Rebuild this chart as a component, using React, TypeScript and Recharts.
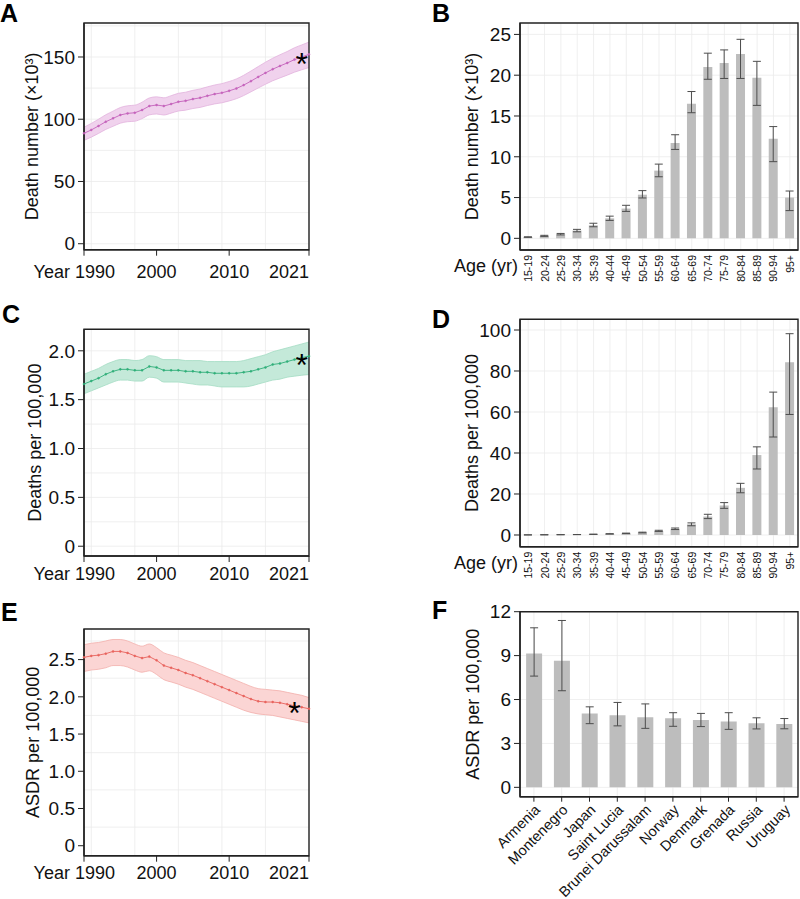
import React from 'react';
import {
  ComposedChart,
  BarChart,
  Bar,
  Line,
  Area,
  XAxis,
  YAxis,
  CartesianGrid,
  ErrorBar,
  ReferenceDot,
} from 'recharts';

// ---- yearly trends (1990–2021) ----
const years = [
  1990, 1991, 1992, 1993, 1994, 1995, 1996, 1997, 1998, 1999, 2000, 2001, 2002, 2003, 2004, 2005,
  2006, 2007, 2008, 2009, 2010, 2011, 2012, 2013, 2014, 2015, 2016, 2017, 2018, 2019, 2020, 2021,
];
const yearTicks = [1990, 2000, 2010, 2021];

// death number, x10^3
const deathNumMean = [
  88.7, 91.4, 94.6, 98.0, 100.7, 103.4, 104.7, 105.2, 107.4, 110.6, 111.4, 110.6, 112.2, 114.0, 114.8, 116.2,
  117.2, 118.8, 120.2, 121.2, 122.8, 124.7, 127.4, 130.6, 134.0, 137.2, 140.2, 142.8, 145.2, 147.9, 150.0, 152.1,
];
const deathNumLower = [
  83.0, 85.6, 88.6, 91.8, 94.3, 96.8, 98.0, 98.4, 100.5, 103.5, 104.2, 103.4, 104.9, 106.6, 107.3, 108.6,
  109.5, 111.0, 112.3, 113.2, 114.7, 116.5, 119.0, 122.0, 125.1, 128.1, 130.9, 133.2, 135.4, 137.8, 139.7, 141.5,
];
const deathNumUpper = [
  93.6, 96.6, 100.0, 103.6, 106.5, 109.4, 110.8, 111.3, 113.7, 117.1, 118.0, 117.2, 118.9, 120.8, 121.7, 123.2,
  124.3, 126.0, 127.5, 128.6, 130.3, 132.4, 135.3, 138.7, 142.3, 145.8, 149.0, 151.8, 154.4, 157.4, 159.7, 162.0,
];

// crude death rate per 100,000
const deathRateMean = [
  1.66, 1.69, 1.72, 1.76, 1.79, 1.81, 1.81, 1.80, 1.80, 1.84, 1.83, 1.80, 1.80, 1.80, 1.79, 1.79,
  1.78, 1.78, 1.77, 1.77, 1.77, 1.77, 1.78, 1.79, 1.81, 1.83, 1.86, 1.87, 1.89, 1.91, 1.93, 1.945,
];
const deathRateLower = [
  1.56, 1.59, 1.62, 1.65, 1.68, 1.70, 1.70, 1.69, 1.69, 1.73, 1.72, 1.68, 1.68, 1.68, 1.67, 1.66,
  1.65, 1.65, 1.64, 1.63, 1.63, 1.63, 1.63, 1.64, 1.66, 1.68, 1.70, 1.71, 1.73, 1.74, 1.75, 1.76,
];
const deathRateUpper = [
  1.76, 1.79, 1.82, 1.86, 1.89, 1.91, 1.91, 1.90, 1.91, 1.95, 1.94, 1.91, 1.91, 1.91, 1.90, 1.90,
  1.90, 1.89, 1.89, 1.89, 1.89, 1.89, 1.90, 1.92, 1.94, 1.96, 1.99, 2.01, 2.03, 2.05, 2.07, 2.09,
];

// age-standardised death rate per 100,000
const asdrMean = [
  2.53, 2.55, 2.56, 2.58, 2.61, 2.61, 2.59, 2.55, 2.52, 2.54, 2.49, 2.42, 2.39, 2.36, 2.32, 2.29,
  2.25, 2.21, 2.17, 2.13, 2.09, 2.05, 2.01, 1.97, 1.94, 1.93, 1.93, 1.92, 1.90, 1.88, 1.86, 1.84,
];
const asdrLower = [
  2.34, 2.36, 2.37, 2.39, 2.42, 2.42, 2.40, 2.36, 2.33, 2.35, 2.30, 2.23, 2.20, 2.17, 2.13, 2.10,
  2.06, 2.02, 1.98, 1.94, 1.90, 1.86, 1.82, 1.79, 1.77, 1.76, 1.75, 1.73, 1.71, 1.69, 1.67, 1.65,
];
const asdrUpper = [
  2.70, 2.72, 2.73, 2.75, 2.77, 2.77, 2.75, 2.71, 2.68, 2.71, 2.66, 2.59, 2.56, 2.53, 2.49, 2.46,
  2.42, 2.38, 2.34, 2.30, 2.26, 2.22, 2.18, 2.14, 2.11, 2.10, 2.09, 2.08, 2.06, 2.04, 2.02, 1.99,
];

// ---- by age group, 2021 ----
const ageGroups = [
  '15-19', '20-24', '25-29', '30-34', '35-39', '40-44', '45-49', '50-54', '55-59',
  '60-64', '65-69', '70-74', '75-79', '80-84', '85-89', '90-94', '95+',
];
const ageDeathNum = [0.15, 0.3, 0.5, 0.95, 1.6, 2.45, 3.65, 5.35, 8.3, 11.7, 16.5, 21.0, 21.5, 22.6, 19.7, 12.2, 5.0];
const ageDeathNumLower = [0.12, 0.24, 0.42, 0.8, 1.42, 2.2, 3.3, 4.95, 7.55, 10.9, 15.4, 19.5, 19.6, 19.6, 16.3, 9.4, 3.4];
const ageDeathNumUpper = [0.19, 0.37, 0.6, 1.1, 1.85, 2.72, 4.05, 5.85, 9.1, 12.7, 18.0, 22.7, 23.1, 24.4, 21.7, 13.7, 5.8];

const ageDeathRate = [0.05, 0.1, 0.15, 0.2, 0.35, 0.55, 0.8, 1.2, 2.0, 3.0, 5.2, 9.0, 14.4, 23.0, 39.0, 62.3, 84.3];
const ageDeathRateLower = [0.04, 0.08, 0.12, 0.17, 0.3, 0.48, 0.7, 1.05, 1.75, 2.65, 4.5, 8.0, 13.0, 20.6, 32.2, 47.8, 58.8];
const ageDeathRateUpper = [0.06, 0.12, 0.18, 0.24, 0.4, 0.63, 0.92, 1.38, 2.3, 3.4, 5.9, 10.1, 15.8, 25.2, 43.0, 69.7, 98.2];

// ---- top 10 countries by ASDR ----
const countries = [
  'Armenia', 'Montenegro', 'Japan', 'Saint Lucia', 'Brunei Darussalam',
  'Norway', 'Denmark', 'Grenada', 'Russia', 'Uruguay',
];
const countryAsdr = [9.15, 8.65, 5.05, 4.92, 4.78, 4.72, 4.6, 4.5, 4.38, 4.32];
const countryAsdrLower = [7.6, 6.6, 4.35, 4.2, 4.03, 4.17, 4.15, 3.96, 3.99, 4.0];
const countryAsdrUpper = [10.9, 11.4, 5.5, 5.8, 5.7, 5.1, 5.05, 5.1, 4.75, 4.7];

const FONT = '"Liberation Sans", Arial, Helvetica, sans-serif';
const INK = '#111';
const FRAME = '#222';
const GRID = '#ebebeb';
const BAR_FILL = '#bdbdbd';
const FRAME_W = 1.4;
const frameLine = { stroke: FRAME, strokeWidth: FRAME_W };

const trendRows = (mean: number[], lower: number[], upper: number[]) =>
  years.map((year, i) => ({ year, mean: mean[i], band: [lower[i], upper[i]] }));

const barRows = (cats: string[], key: string, vals: number[], lower: number[], upper: number[]) =>
  cats.map((c, i) => ({ [key]: c, value: vals[i], err: [vals[i] - lower[i], upper[i] - vals[i]] }));

const fmtRate = (v: number) => (v === 0 ? '0' : v.toFixed(1));

// rotated y axis title plus the outline of the plot box (box given in chart pixels)
const YTitle = ({ viewBox, value, cx, box }: any) => {
  const y = box.y + box.h / 2;
  return (
    <g>
      <path
        d={`M${box.x},${box.y}H${box.x + box.w}V${box.y + box.h}H${box.x}Z`}
        fill="none"
        stroke={FRAME}
        strokeWidth={FRAME_W}
      />
      <text
        x={cx}
        y={y}
        transform={`rotate(-90, ${cx}, ${y})`}
        textAnchor="middle"
        dominantBaseline="central"
        fontSize={18}
        fill={INK}
        fontFamily={FONT}
      >
        {value}
      </text>
    </g>
  );
};

const AgeTitle = ({ viewBox, dy }: any) => (
  <text
    x={viewBox.x - 2}
    y={viewBox.y + dy}
    textAnchor="end"
    dominantBaseline="central"
    fontSize={18}
    fill={INK}
    fontFamily={FONT}
  >
    Age (yr)
  </text>
);

const YearTick = ({ x, y, payload }: any) => {
  const v = payload.value;
  let label = String(v);
  let anchor: 'middle' | 'end' = 'middle';
  let tx = x;
  if (v === yearTicks[0]) {
    label = `Year ${v}`;
    anchor = 'end';
    tx = x + 31;
  } else if (v === yearTicks[yearTicks.length - 1]) {
    anchor = 'end';
    tx = x + 5;
  }
  return (
    <text x={tx} y={y} dy="0.71em" textAnchor={anchor} fontSize={18} fill={INK} fontFamily={FONT}>
      {label}
    </text>
  );
};

const AgeTick = ({ x, y, payload }: any) => (
  <text
    x={x}
    y={y}
    transform={`rotate(-90, ${x}, ${y})`}
    textAnchor="end"
    dominantBaseline="central"
    fontSize={10.5}
    fill={INK}
    fontFamily={FONT}
  >
    {payload.value}
  </text>
);

const CountryTick = ({ x, y, payload }: any) => {
  const tx = x + 7;
  const ty = y + 7;
  return (
    <text
      x={tx}
      y={ty}
      transform={`rotate(-45, ${tx}, ${ty})`}
      textAnchor="end"
      fontSize={14.5}
      fill={INK}
      fontFamily={FONT}
    >
      {payload.value}
    </text>
  );
};

const Asterisk = ({ cx, cy }: any) => (
  <text x={cx} y={cy + 18.5} textAnchor="middle" fontSize={32} fill="#000" fontFamily={FONT}>
    *
  </text>
);

const PanelLetter = ({ letter, left, top }: { letter: string; left: number; top: number }) => (
  <div
    style={{
      position: 'absolute',
      left,
      top,
      fontFamily: FONT,
      fontWeight: 900,
      fontSize: 25,
      lineHeight: '25px',
      color: '#000',
    }}
  >
    {letter}
  </div>
);

interface TrendProps {
  left: number;
  top: number;
  height: number;
  marginTop: number;
  mean: number[];
  lower: number[];
  upper: number[];
  yDomain: [number, number];
  yTicks: number[];
  yGrid: number[];
  title: string;
  titleX: number;
  tickGap: number;
  color: string;
  fill: string;
  edge: string;
  starYear: number;
  fmt?: (v: number) => string;
}

const TREND_W = 320;
const TREND_AXIS_W = 84;
const TREND_RIGHT = 11;
const TREND_PLOT_H = 226.7;

const TrendPanel: React.FC<TrendProps> = (p) => {
  const data = trendRows(p.mean, p.lower, p.upper);
  const xDomain: [number, number] = [years[0], years[years.length - 1]];
  const plotBottom = p.height - p.marginTop - TREND_PLOT_H;
  const starIdx = years.indexOf(p.starYear);
  const box = { x: TREND_AXIS_W, y: p.marginTop, w: TREND_W - TREND_AXIS_W - TREND_RIGHT, h: TREND_PLOT_H };
  return (
    <div style={{ position: 'absolute', left: p.left, top: p.top }}>
      <ComposedChart
        width={TREND_W}
        height={p.height}
        data={data}
        margin={{ top: p.marginTop, right: TREND_RIGHT, bottom: 0, left: 0 }}
      >
        <CartesianGrid stroke={GRID} strokeWidth={0.8} horizontalValues={p.yGrid} verticalValues={years} />
        <XAxis
          dataKey="year"
          type="number"
          domain={xDomain}
          ticks={yearTicks}
          height={plotBottom}
          tickSize={6}
          tickMargin={p.tickGap}
          tickLine={{ stroke: FRAME }}
          axisLine={frameLine}
          tick={<YearTick />}
        />
        <YAxis
          type="number"
          domain={p.yDomain}
          ticks={p.yTicks}
          width={TREND_AXIS_W}
          tickSize={6}
          tickMargin={3}
          tickFormatter={p.fmt}
          tickLine={{ stroke: FRAME }}
          axisLine={frameLine}
          tick={{ fontSize: 19, fill: INK, fontFamily: FONT }}
          label={<YTitle value={p.title} cx={p.titleX} box={box} />}
        />
        <Area
          dataKey="band"
          type="monotone"
          fill={p.fill}
          fillOpacity={1}
          stroke={p.edge}
          strokeWidth={0.8}
          isAnimationActive={false}
        />
        <Line
          dataKey="mean"
          type="linear"
          stroke={p.color}
          strokeWidth={0.9}
          dot={{ r: 1, fill: p.color, stroke: p.color, strokeWidth: 0.5 }}
          isAnimationActive={false}
        />
        <ReferenceDot x={p.starYear} y={p.mean[starIdx]} shape={<Asterisk />} />
      </ComposedChart>
    </div>
  );
};

interface BarProps {
  left: number;
  top: number;
  height: number;
  marginTop: number;
  rows: any[];
  catKey: string;
  yDomain: [number, number];
  yTicks: number[];
  yGrid: number[];
  title: string;
  titleX: number;
  plotHeight: number;
  kind: 'age' | 'country';
}

const BAR_W = 400;
const BAR_AXIS_W = 120;
const BAR_RIGHT = 2;

const BarPanel: React.FC<BarProps> = (p) => {
  const axisHeight = p.height - p.marginTop - p.plotHeight;
  const isAge = p.kind === 'age';
  const box = { x: BAR_AXIS_W, y: p.marginTop, w: BAR_W - BAR_AXIS_W - BAR_RIGHT, h: p.plotHeight };
  return (
    <div style={{ position: 'absolute', left: p.left, top: p.top }}>
      <BarChart
        width={BAR_W}
        height={p.height}
        data={p.rows}
        margin={{ top: p.marginTop, right: BAR_RIGHT, bottom: 0, left: 0 }}
        barCategoryGap={isAge ? '21%' : '22%'}
      >
        <CartesianGrid stroke={GRID} strokeWidth={0.8} horizontalValues={p.yGrid} />
        <XAxis
          dataKey={p.catKey}
          interval={0}
          height={axisHeight}
          tickSize={isAge ? 0 : 5}
          tickMargin={isAge ? 5 : 2}
          tickLine={isAge ? false : { stroke: FRAME }}
          axisLine={frameLine}
          tick={isAge ? <AgeTick /> : <CountryTick />}
          label={isAge ? <AgeTitle dy={16} /> : undefined}
        />
        <YAxis
          type="number"
          domain={p.yDomain}
          ticks={p.yTicks}
          width={BAR_AXIS_W}
          tickSize={6}
          tickMargin={3}
          tickLine={{ stroke: FRAME }}
          axisLine={frameLine}
          tick={{ fontSize: 19, fill: INK, fontFamily: FONT }}
          label={<YTitle value={p.title} cx={p.titleX} box={box} />}
        />
        <Bar dataKey="value" fill={BAR_FILL} isAnimationActive={false}>
          <ErrorBar dataKey="err" width={4} stroke="#4d4d4d" strokeWidth={1} />
        </Bar>
      </BarChart>
    </div>
  );
};

const App: React.FC = () => {
  const ageNumRows = barRows(ageGroups, 'age', ageDeathNum, ageDeathNumLower, ageDeathNumUpper);
  const ageRateRows = barRows(ageGroups, 'age', ageDeathRate, ageDeathRateLower, ageDeathRateUpper);
  const countryRows = barRows(countries, 'country', countryAsdr, countryAsdrLower, countryAsdrUpper);

  return (
    <div
      style={{
        position: 'absolute',
        left: 0,
        top: 0,
        width: 800,
        height: 899,
        background: '#fff',
        overflow: 'hidden',
      }}
    >
      <TrendPanel
        left={0}
        top={0}
        height={290}
        marginTop={23}
        mean={deathNumMean}
        lower={deathNumLower}
        upper={deathNumUpper}
        yDomain={[-4.8, 177.3]}
        yTicks={[0, 50, 100, 150]}
        yGrid={[0, 25, 50, 75, 100, 125, 150, 175]}
        title="Death number (×10³)"
        titleX={32}
        tickGap={10}
        color="#c462bb"
        fill="#f0d2ed"
        edge="#e2b3dd"
        starYear={2020}
      />
      <TrendPanel
        left={0}
        top={290}
        height={300}
        marginTop={39.3}
        mean={deathRateMean}
        lower={deathRateLower}
        upper={deathRateUpper}
        yDomain={[-0.1, 2.22]}
        yTicks={[0, 0.5, 1, 1.5, 2]}
        yGrid={[0, 0.25, 0.5, 0.75, 1, 1.25, 1.5, 1.75, 2]}
        title="Deaths per 100,000"
        titleX={35}
        tickGap={5}
        color="#2fae78"
        fill="#c4e9d9"
        edge="#a3dcc3"
        starYear={2020}
        fmt={fmtRate}
      />
      <TrendPanel
        left={0}
        top={590}
        height={309}
        marginTop={39}
        mean={asdrMean}
        lower={asdrLower}
        upper={asdrUpper}
        yDomain={[-0.134, 2.911]}
        yTicks={[0, 0.5, 1, 1.5, 2, 2.5]}
        yGrid={[0, 0.25, 0.5, 0.75, 1, 1.25, 1.5, 1.75, 2, 2.25, 2.5, 2.75]}
        title="ASDR per 100,000"
        titleX={33}
        tickGap={5}
        color="#e8625c"
        fill="#fbd5d4"
        edge="#f3aeab"
        starYear={2019}
        fmt={fmtRate}
      />

      <BarPanel
        left={400}
        top={0}
        height={330}
        marginTop={23}
        plotHeight={227}
        rows={ageNumRows}
        catKey="age"
        yDomain={[-1.43, 26.4]}
        yTicks={[0, 5, 10, 15, 20, 25]}
        yGrid={[0, 2.5, 5, 7.5, 10, 12.5, 15, 17.5, 20, 22.5, 25]}
        title="Death number (×10³)"
        titleX={72}
        kind="age"
      />
      <BarPanel
        left={400}
        top={290}
        height={330}
        marginTop={29.3}
        plotHeight={227.4}
        rows={ageRateRows}
        catKey="age"
        yDomain={[-5.71, 105.22]}
        yTicks={[0, 20, 40, 60, 80, 100]}
        yGrid={[0, 10, 20, 30, 40, 50, 60, 70, 80, 90, 100]}
        title="Deaths per 100,000"
        titleX={72}
        kind="age"
      />
      <BarPanel
        left={400}
        top={590}
        height={309}
        marginTop={21.7}
        plotHeight={185}
        rows={countryRows}
        catKey="country"
        yDomain={[-0.64, 12]}
        yTicks={[0, 3, 6, 9, 12]}
        yGrid={[0, 1.5, 3, 4.5, 6, 7.5, 9, 10.5, 12]}
        title="ASDR per 100,000"
        titleX={73}
        kind="country"
      />

      <PanelLetter letter="A" left={0} top={1} />
      <PanelLetter letter="B" left={432} top={1} />
      <PanelLetter letter="C" left={2} top={302} />
      <PanelLetter letter="D" left={432} top={307} />
      <PanelLetter letter="E" left={1} top={600} />
      <PanelLetter letter="F" left={432} top={598} />
    </div>
  );
};

export default App;
